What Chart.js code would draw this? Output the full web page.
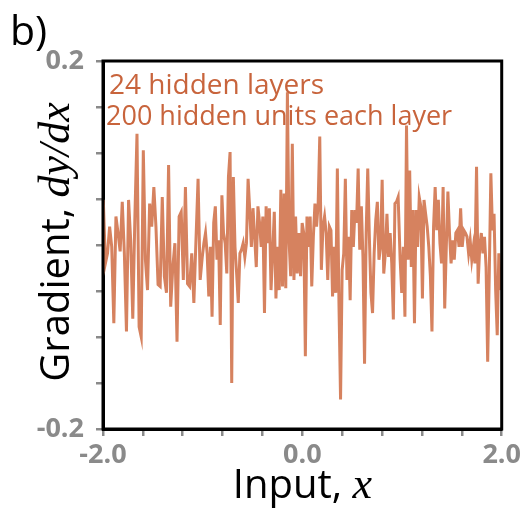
<!DOCTYPE html>
<html>
<head>
<meta charset="utf-8">
<script src="https://cdn.jsdelivr.net/npm/chart.js@4.4.1/dist/chart.umd.min.js"></script>
<style>
  html, body { margin: 0; padding: 0; background: #fff; }
  #wrap { width: 524px; height: 508px; }
</style>
</head>
<body>
<div id="wrap"><canvas id="chart" width="524" height="508"></canvas></div>
<script>
'use strict'

// gradient values, in four stretches of the x axis
const gradA = [0.049, -0.020, -0.009, 0.020, -0.002, -0.085, 0.031, 0.013, -0.007, 0.047, -0.009, -0.094,
  0.049, 0.005, -0.080, 0.031, 0.121, -0.089, -0.100, 0.103, -0.016, -0.049, 0.045, 0.020, 0.063, 0.020,
  -0.043, -0.045, 0.052, -0.034, -0.052, 0.087, -0.067, -0.024, 0.002, -0.105, 0.031, 0.036, -0.038, 0.063,
  -0.042, -0.045, -0.009, -0.063, 0.005, 0.072, -0.038, -0.013];
const gradB = [0.002, 0.013, -0.009, -0.056, -0.002, -0.078, 0.024, 0.042, -0.016, 0.005, -0.087, 0.054,
  0.013, 0.002, -0.031, 0.074, 0.101, -0.150, 0.074, -0.002, -0.031, -0.063, -0.009, -0.005, 0.002, -0.013,
  0.002, 0.072, 0.038, -0.002, 0.040, 0.009, -0.024, 0.042, 0.024, -0.002, 0.031, -0.074, 0.042, 0.002,
  0.040, -0.049, -0.009, 0.036, -0.058, -0.002, -0.049, 0.060, -0.045, 0.056, -0.047, 0.166, 0.005, -0.034,
  0.110, -0.038, 0.031, -0.031, 0.013];
const gradC = [-0.034, 0.024, 0.013, -0.121, 0.031, -0.002, 0.031, -0.045, 0.009, 0.045, 0.020, 0.045,
  0.118, -0.027, 0.020, 0.031, 0.013, -0.038, 0.020, 0.016, -0.056, -0.002, -0.052, 0.083, -0.063, -0.168,
  -0.027, -0.009, 0.072, -0.038, 0.009, -0.060, 0.038, -0.002, 0.038, 0.024, 0.083, -0.005, 0.042, -0.013,
  -0.129, 0.013, 0.083, 0.009, -0.052, -0.074, -0.009, 0.027, 0.047, -0.016, -0.002, 0.071, -0.031, -0.009,
  0.034, -0.013, 0.013, -0.020, -0.081, 0.045, 0.047, 0.052];
const gradD = [-0.016, -0.052, -0.002, -0.078, 0.130, -0.016, 0.081, -0.024, 0.038, -0.085, 0.038, -0.002,
  0.052, 0.042, -0.058, 0.049, 0.034, 0.020, -0.002, -0.034, -0.094, 0.020, 0.063, 0.016, 0.049, 0.002,
  -0.020, 0.063, -0.069, -0.002, 0.058, 0.013, -0.020, 0.005, -0.016, 0.013, 0.016, -0.002, 0.040, -0.002,
  0.016, 0.013, 0.009, -0.009, 0.005, -0.016, -0.002, -0.020, 0.085, -0.042, -0.002, 0.013, -0.009, 0.009,
  -0.024, -0.127, -0.031, 0.078, 0.016, 0.034, -0.049, -0.098, -0.009, -0.049];

// input range each stretch covers
const segStart = [-1.997, -0.988, -0.018, 0.981];
const segEnd = [-1.004, -0.035, 0.961, 1.987];

const xTickLabels = ['-2.0', '0.0', '2.0'];
const yTickLabels = ['-0.2', '0.2'];

const lineColor = '#d6825f';
const noteColor = '#c8643c';
const tickGray = '#8a8a8a';

const points = [];
[gradA, gradB, gradC, gradD].forEach((seg, s) => {
    const step = (segEnd[s] - segStart[s]) / (seg.length - 1);
    seg.forEach((v, i) => points.push({ x: segStart[s] + i * step, y: v }));
});

function pickLabel(value, labels) {
    const hit = labels.find(l => Math.abs(parseFloat(l) - value) < 1e-6);
    return hit || '';
}

// box, panel letter, notes and the two axis titles (mixed fonts)
const decorations = {
    id: 'decorations',
    afterDatasetsDraw(chart) {
        const { ctx, chartArea: a } = chart;
        ctx.save();
        ctx.strokeStyle = '#000';
        ctx.lineWidth = 3;
        ctx.strokeRect(a.left, a.top, a.right - a.left, a.bottom - a.top);

        ctx.fillStyle = '#000';
        ctx.textBaseline = 'alphabetic';
        ctx.font = '41px "Open Sans"';
        ctx.fillText('b)', 10, 45);

        ctx.fillStyle = noteColor;
        ctx.font = '28px "Open Sans"';
        ctx.fillText('24 hidden layers', 109, 94);
        ctx.font = '27px "Open Sans"';
        ctx.fillText('200 hidden units each layer', 106, 125);

        // x title
        ctx.fillStyle = '#000';
        const sans = '40px "Open Sans"';
        const math = 'italic 44px "Liberation Serif"';
        ctx.font = sans;
        const w1 = ctx.measureText('Input, ').width;
        ctx.font = math;
        const w2 = ctx.measureText('x').width;
        let x0 = (a.left + a.right) / 2 - (w1 + w2) / 2;
        ctx.font = sans;
        ctx.fillText('Input, ', x0, 498);
        ctx.font = math;
        ctx.fillText('x', x0 + w1, 498);

        // y title
        ctx.translate(69, (a.top + a.bottom) / 2 - 3);
        ctx.rotate(-Math.PI / 2);
        ctx.font = sans;
        const v1 = ctx.measureText('Gradient, ').width;
        ctx.font = math;
        const v2 = ctx.measureText('dy/dx').width;
        x0 = -(v1 + v2) / 2;
        ctx.font = sans;
        ctx.fillText('Gradient, ', x0, 0);
        ctx.font = math;
        ctx.fillText('dy/dx', x0 + v1, 0);
        ctx.restore();
    }
};

const ctx = document.getElementById('chart').getContext('2d');
const myChart = new Chart(ctx, {
    type: 'line',
    data: {
        datasets: [{
            data: points,
            borderColor: lineColor,
            borderWidth: 3,
            pointRadius: 0,
            tension: 0,
            fill: false,
        }]
    },
    options: {
        responsive: false,
        animation: false,
        events: [],
        layout: { padding: { top: 61, right: 18, left: 0, bottom: 0 } },
        plugins: { legend: { display: false }, tooltip: { enabled: false } },
        scales: {
            x: {
                type: 'linear',
                min: -2,
                max: 2,
                afterFit: s => { s.height = 79; },
                ticks: {
                    stepSize: 0.4,
                    autoSkip: false,
                    maxRotation: 0,
                    padding: 3,
                    color: tickGray,
                    font: { family: 'Open Sans', size: 27, weight: 'bold' },
                    callback: v => pickLabel(v, xTickLabels),
                },
                grid: { drawOnChartArea: false, tickLength: 7, color: tickGray, lineWidth: 2.5 },
                border: { color: '#000', width: 3 },
            },
            y: {
                min: -0.2,
                max: 0.2,
                afterFit: s => { s.width = 103; },
                ticks: {
                    stepSize: 0.05,
                    autoSkip: false,
                    padding: 12,
                    color: tickGray,
                    font: { family: 'Open Sans', size: 27, weight: 'bold' },
                    callback: v => pickLabel(v, yTickLabels),
                },
                grid: { drawOnChartArea: false, tickLength: 7, color: tickGray, lineWidth: 2.5 },
                border: { color: '#000', width: 3 },
            }
        }
    },
    plugins: [decorations]
});
</script>
</body>
</html>
